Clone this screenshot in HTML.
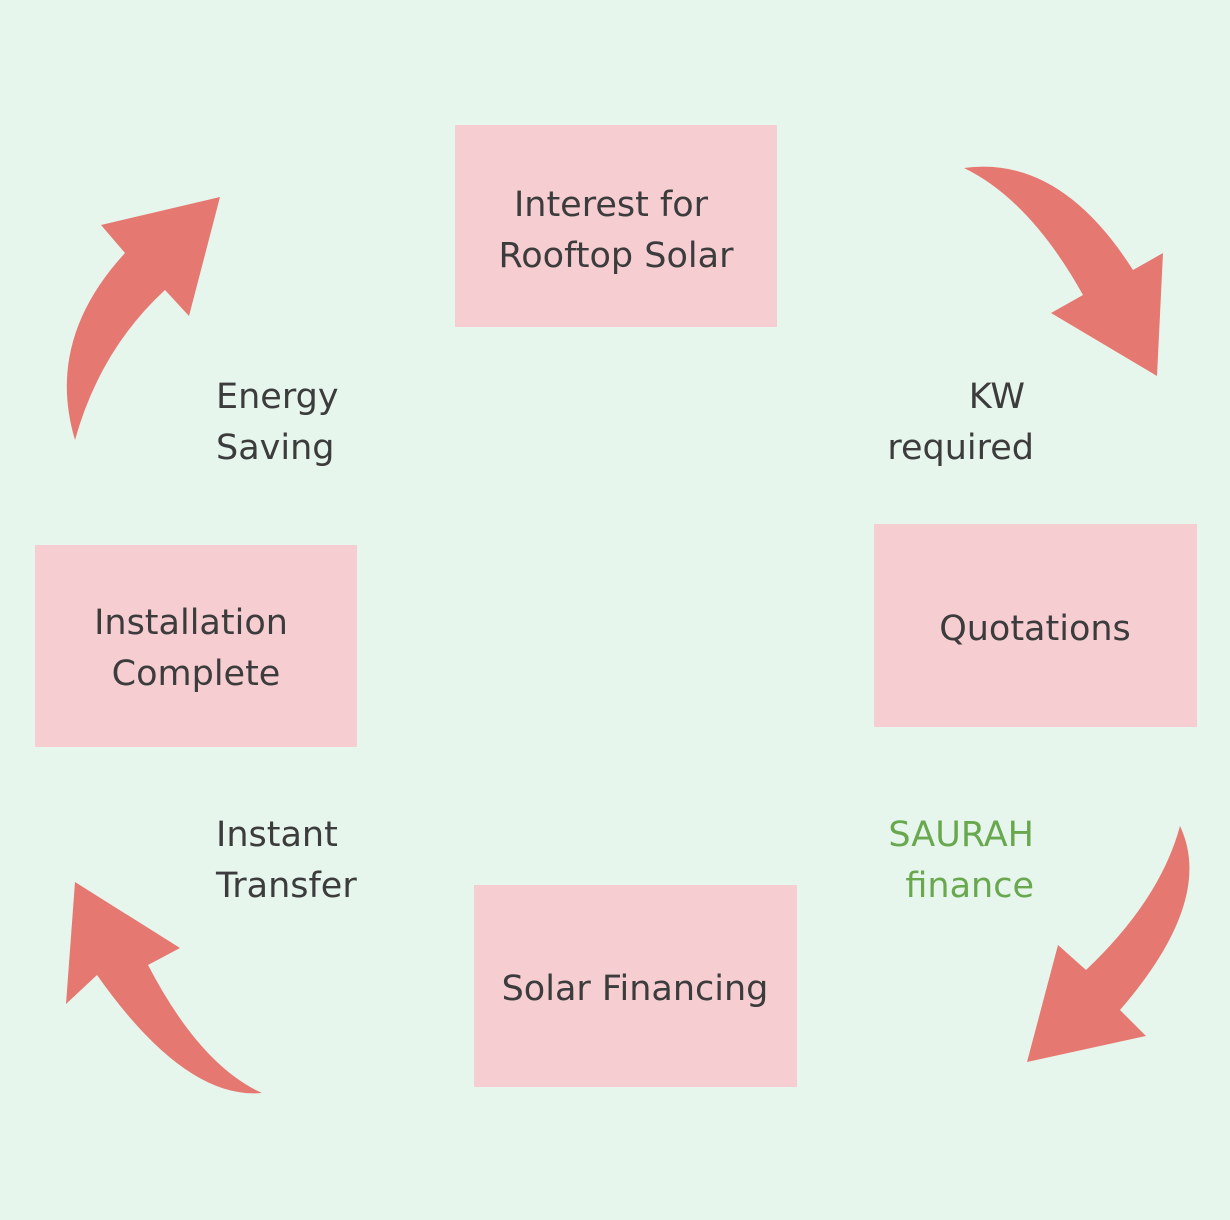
<!DOCTYPE html>
<html><head><meta charset="utf-8"><style>
html,body{margin:0;padding:0;background:#e6f6ec;}
svg{display:block}
text{font-family:"DejaVu Sans","Liberation Sans",sans-serif;font-size:35px;fill:#3c3c3c;}
</style></head><body>
<svg width="1230" height="1220" viewBox="0 0 1230 1220" xmlns="http://www.w3.org/2000/svg">
<rect width="1230" height="1220" fill="#e6f6ec"/>
<g fill="#f6cdd1">
<rect x="455" y="125" width="322" height="202"/>
<rect x="874" y="524" width="323" height="203"/>
<rect x="35" y="545" width="322" height="202"/>
<rect x="474" y="885" width="323" height="202"/>
</g>
<g fill="#e67872">
<path d="M964,168 Q1060,155 1133,270 L1163,253 L1157,376 L1051,313 L1083,295 Q1030,200 964,168 Z"/>
<path d="M75,440 Q45,340 125,253 L101,225 L220,197 L189,316 L165,290 Q100,350 75,440 Z"/>
<path d="M1180,826 Q1215,900 1120,1010 L1146,1036 L1027,1062 L1058,945 L1086,970 Q1160,900 1180,826 Z"/>
<path d="M262,1093 Q185,1100 97,975 L66,1004 L75,882 L180,948 L148,965 Q200,1065 262,1093 Z"/>
</g>
<g text-anchor="middle">
<text x="611" y="216">Interest for</text>
<text x="616" y="267">Rooftop Solar</text>
<text x="1035" y="640">Quotations</text>
<text x="191" y="634">Installation</text>
<text x="196" y="685">Complete</text>
<text x="635" y="1000">Solar Financing</text>
</g>
<text x="216" y="408">Energy</text>
<text x="216" y="459">Saving</text>
<text x="216" y="846">Instant</text>
<text x="216" y="897">Transfer</text>
<g text-anchor="end">
<text x="1025" y="408">KW</text>
<text x="1034" y="459">required</text>
<text x="1034" y="846" style="fill:#6aa84f">SAURAH</text>
<text x="1034" y="897" style="fill:#6aa84f">finance</text>
</g>
</svg>
</body></html>
